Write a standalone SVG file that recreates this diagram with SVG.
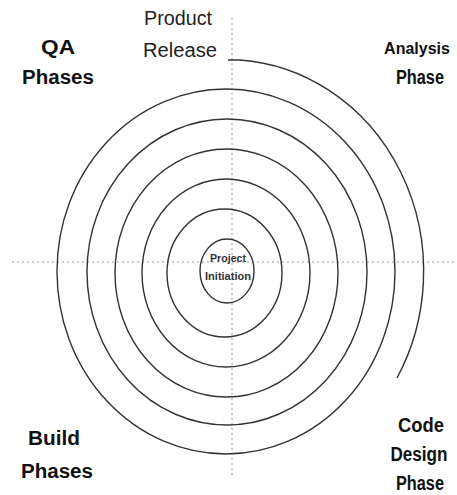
<svg xmlns="http://www.w3.org/2000/svg" width="457" height="495" viewBox="0 0 457 495">
<style>
.ring{fill:none;stroke:#333;stroke-width:1.4}
.axis{fill:none;stroke:#9a9a9a;stroke-width:1;stroke-dasharray:2 3}
.lbl{font-family:"Liberation Sans",Arial,sans-serif;font-weight:bold;font-size:20px;fill:#111;text-anchor:middle}
.reg{font-family:"Liberation Sans",Arial,sans-serif;font-size:20px;fill:#222;text-anchor:middle}
.small{font-family:"Liberation Sans",Arial,sans-serif;font-size:10.5px;font-weight:bold;fill:#333;text-anchor:middle}
</style>
<rect width="457" height="495" fill="#fff"/>
<g id="connectors">
<line class="axis" x1="12" y1="262" x2="457" y2="262"/>
<line class="axis" x1="232" y1="18" x2="232" y2="478"/>
<path class="ring" d="M228,60 L240,60 A197,212 0 0 1 397,378"/>
</g>
<g id="rings">
<ellipse class="ring" cx="226" cy="271.5" rx="169" ry="182.5"/>
<ellipse class="ring" cx="227" cy="272" rx="140" ry="153"/>
<ellipse class="ring" cx="226.5" cy="273" rx="111.5" ry="124"/>
<ellipse class="ring" cx="226" cy="273" rx="84" ry="94"/>
<ellipse class="ring" cx="224.5" cy="273" rx="57.5" ry="64"/>
</g>
<g id="project-initiation">
<ellipse class="ring" cx="227" cy="271" rx="27" ry="32"/>
<text class="small" x="228" y="262" textLength="36" lengthAdjust="spacingAndGlyphs">Project</text>
<text class="small" x="228" y="280" textLength="46" lengthAdjust="spacingAndGlyphs">Initiation</text>
</g>
<g id="product-release">
<text class="reg" x="178" y="25" textLength="68" lengthAdjust="spacingAndGlyphs">Product</text>
<text class="reg" x="180" y="57" textLength="74" lengthAdjust="spacingAndGlyphs">Release</text>
</g>
<g id="qa-phases">
<text class="lbl" x="58" y="54" textLength="34" lengthAdjust="spacingAndGlyphs">QA</text>
<text class="lbl" x="58" y="84" textLength="72" lengthAdjust="spacingAndGlyphs">Phases</text>
</g>
<g id="analysis-phase">
<text class="lbl" x="417" y="54" style="font-size:16px">Analysis</text>
<text class="lbl" x="420" y="84" textLength="48" lengthAdjust="spacingAndGlyphs">Phase</text>
</g>
<g id="build-phases">
<text class="lbl" x="54" y="445" textLength="52" lengthAdjust="spacingAndGlyphs">Build</text>
<text class="lbl" x="57" y="478" textLength="72" lengthAdjust="spacingAndGlyphs">Phases</text>
</g>
<g id="code-design-phase">
<text class="lbl" x="421" y="432" textLength="46" lengthAdjust="spacingAndGlyphs">Code</text>
<text class="lbl" x="419" y="461" textLength="57" lengthAdjust="spacingAndGlyphs">Design</text>
<text class="lbl" x="420" y="490" textLength="48" lengthAdjust="spacingAndGlyphs">Phase</text>
</g>
</svg>
